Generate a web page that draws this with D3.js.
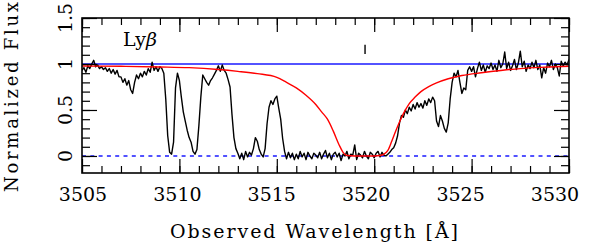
<!DOCTYPE html>
<html>
<head>
<meta charset="utf-8">
<script src="https://cdn.jsdelivr.net/npm/d3@7"></script>
<style>
  body { margin: 0; background: #fff; }
  text { font-family: "DejaVu Serif", serif; fill: #000; }
</style>
</head>
<body>
<svg id="chart" width="596" height="245"></svg>
<script>
// axis ticks
const xTicksMajor = [3505, 3510, 3515, 3520, 3525, 3530];
const xTicksMinor = d3.range(3505, 3531, 1);
const yTicksMajor = [0, 0.5, 1, 1.5];
const yTickLabels = ["0", "0.5", "1", "1.5"];
const yTicksMinor = [-0.1, 0, 0.1, 0.2, 0.3, 0.4, 0.5, 0.6, 0.7, 0.8, 0.9, 1, 1.1, 1.2, 1.3, 1.4, 1.5];

// observed spectrum, sampled every 0.1 A from 3505.0
const waveStart = 3505.0;
const waveStep = 0.1;
const flux = [
  0.93, 0.96, 0.91, 0.98, 0.95, 1.00, 1.04, 0.97, 0.99, 0.95,   // 3505
  0.97, 0.94, 0.96, 0.92, 0.95, 0.90, 0.94, 0.89, 0.93, 0.86,   // 3506
  0.86, 0.80, 0.84, 0.77, 0.82, 0.72, 0.68, 0.80, 0.88, 0.84,   // 3507
  0.90, 0.86, 0.92, 0.88, 0.95, 0.91, 1.02, 0.93, 0.97, 0.92,   // 3508
  0.97, 0.95, 0.90, 0.62, 0.22, 0.04, 0.02, 0.15, 0.74, 0.90,   // 3509
  0.82, 0.64, 0.48, 0.38, 0.28, 0.20, 0.15, 0.05, 0.02, 0.07,   // 3510
  0.33, 0.64, 0.88, 0.84, 0.80, 0.77, 0.82, 0.85, 0.89, 0.93,   // 3511
  0.98, 0.92, 0.99, 0.93, 0.90, 0.83, 0.75, 0.45, 0.20, 0.08,   // 3512
  0.03, -0.03, 0.03, -0.04, 0.05, -0.01, 0.04, 0.01, 0.08, 0.20, // 3513
  0.16, 0.07, 0.02, -0.01, 0.08, 0.35, 0.53, 0.60, 0.56, 0.62,  // 3514
  0.65, 0.52, 0.40, 0.19, 0.05, -0.03, 0.04, -0.02, 0.03, -0.04, // 3515
  0.02, -0.03, 0.05, -0.01, 0.03, -0.04, 0.04, 0.00, -0.03, 0.03, // 3516
  0.01, -0.02, 0.04, -0.03, 0.02, 0.06, -0.02, 0.03, -0.04, 0.02, // 3517
  0.04, -0.01, 0.03, -0.05, 0.02, 0.00, 0.05, -0.03, 0.02, 0.01, // 3518
  0.12, -0.04, 0.03, 0.01, -0.02, 0.05, 0.00, -0.03, 0.04, 0.02, // 3519
  -0.02, 0.03, 0.05, -0.01, 0.04, 0.01, 0.00, 0.02, 0.04, 0.07, // 3520
  0.09, 0.14, 0.22, 0.36, 0.44, 0.42, 0.50, 0.46, 0.53, 0.49,   // 3521
  0.56, 0.51, 0.58, 0.53, 0.57, 0.52, 0.60, 0.55, 0.62, 0.58,   // 3522
  0.64, 0.60, 0.38, 0.32, 0.44, 0.38, 0.30, 0.26, 0.36, 0.62,   // 3523
  0.80, 0.90, 0.86, 0.93, 0.80, 0.68, 0.74, 0.72, 0.93, 0.97,   // 3524
  0.92, 0.97, 0.86, 0.95, 1.02, 0.93, 0.99, 0.91, 0.98, 0.95,   // 3525
  1.01, 0.94, 0.99, 0.92, 1.04, 0.96, 1.00, 1.13, 0.95, 1.02,   // 3526
  0.93, 0.98, 1.05, 0.94, 1.01, 1.14, 0.97, 1.03, 0.92, 0.99,   // 3527
  0.95, 1.02, 0.96, 1.04, 0.94, 0.99, 0.85, 0.96, 0.90, 1.01,   // 3528
  0.97, 1.04, 0.94, 1.00, 0.96, 0.87, 1.03, 0.98, 1.02, 0.99,   // 3529
  1.05                                                          // 3530
];

// fitted absorption model (red)
const modelWave = [3505, 3507, 3509, 3510.5, 3512, 3513, 3514, 3515, 3515.5, 3516, 3516.5,
  3517, 3517.3, 3517.6, 3517.9, 3518.2, 3518.4, 3518.6, 3519, 3520, 3520.3, 3520.5, 3520.7,
  3520.9, 3521.1, 3521.3, 3521.5, 3521.8, 3522.1, 3522.4, 3522.8, 3523.2, 3523.8, 3524.5,
  3525.5, 3526.5, 3527.5, 3528.5, 3529.3, 3530];
const modelFlux = [0.978, 0.975, 0.968, 0.96, 0.94, 0.92, 0.895, 0.855, 0.80, 0.74, 0.66,
  0.56, 0.48, 0.40, 0.27, 0.12, 0.04, 0.005, 0, 0, 0.005, 0.02, 0.06,
  0.16, 0.27, 0.37, 0.46, 0.57, 0.64, 0.70, 0.755, 0.795, 0.84, 0.875,
  0.905, 0.93, 0.95, 0.963, 0.97, 0.976];

const continuumLevel = 1;
const zeroLevel = 0;
const markerWave = 3519.53;
const markerRange = [1.11, 1.21];

const svg = d3.select("#chart");
const margin = {left: 82, right: 27, top: 18, bottom: 72};
const W = 596, H = 245;

const x = d3.scaleLinear().domain([3505, 3530]).range([margin.left, W - margin.right]);
const y = d3.scaleLinear().domain([-0.185, 1.5]).range([H - margin.bottom, margin.top]);
// tick labels in the original sit on a slightly compressed grid
const xLab = d3.scaleLinear().domain([3505, 3530]).range([83, 555]);

svg.append("defs").append("clipPath").attr("id", "clip")
  .append("rect")
  .attr("x", x.range()[0]).attr("y", y.range()[1])
  .attr("width", x.range()[1] - x.range()[0])
  .attr("height", y.range()[0] - y.range()[1]);

const plot = svg.append("g").attr("clip-path", "url(#clip)");

// reference levels
plot.append("line")
  .attr("x1", x(3505)).attr("x2", x(3530))
  .attr("y1", y(continuumLevel)).attr("y2", y(continuumLevel))
  .attr("stroke", "#1a1aff").attr("stroke-width", 1.4);
plot.append("line")
  .attr("x1", x(3505)).attr("x2", x(3530))
  .attr("y1", y(zeroLevel)).attr("y2", y(zeroLevel))
  .attr("stroke", "#1a1aff").attr("stroke-width", 1.4)
  .attr("stroke-dasharray", "4,4.3");

// spectrum
const specLine = d3.line()
  .x((d, i) => x(waveStart + i * waveStep))
  .y(d => y(d));
plot.append("path")
  .datum(flux)
  .attr("d", specLine)
  .attr("fill", "none")
  .attr("stroke", "#000")
  .attr("stroke-width", 1.4)
  .attr("stroke-linejoin", "round");

// model
const modelLine = d3.line()
  .x(d => x(d[0]))
  .y(d => y(d[1]))
  .curve(d3.curveMonotoneX);
plot.append("path")
  .datum(d3.zip(modelWave, modelFlux))
  .attr("d", modelLine)
  .attr("fill", "none")
  .attr("stroke", "#ff0000")
  .attr("stroke-width", 1.4);

// line position marker
plot.append("line")
  .attr("x1", x(markerWave)).attr("x2", x(markerWave))
  .attr("y1", y(markerRange[0])).attr("y2", y(markerRange[1]))
  .attr("stroke", "#000").attr("stroke-width", 1.4);

// ticks on all four sides
function tickAxis(axis, values, size, transform) {
  const g = svg.append("g")
    .attr("transform", transform)
    .call(axis.tickValues(values).tickSize(size).tickSizeOuter(0).tickFormat(""));
  g.select(".domain").remove();
  g.selectAll("line").attr("stroke", "#000").attr("stroke-width", 1.2);
}
const bottomY = y.range()[0], topY = y.range()[1];
const leftX = x.range()[0], rightX = x.range()[1];
tickAxis(d3.axisBottom(x), xTicksMinor, -7, `translate(0,${bottomY})`);
tickAxis(d3.axisBottom(x), xTicksMajor, -14, `translate(0,${bottomY})`);
tickAxis(d3.axisTop(x), xTicksMinor, -7, `translate(0,${topY})`);
tickAxis(d3.axisTop(x), xTicksMajor, -14, `translate(0,${topY})`);
tickAxis(d3.axisLeft(y), yTicksMinor, -8, `translate(${leftX},0)`);
tickAxis(d3.axisLeft(y), yTicksMajor, -15, `translate(${leftX},0)`);
tickAxis(d3.axisRight(y), yTicksMinor, -8, `translate(${rightX},0)`);
tickAxis(d3.axisRight(y), yTicksMajor, -15, `translate(${rightX},0)`);

// frame
svg.append("rect")
  .attr("x", leftX).attr("y", topY)
  .attr("width", rightX - leftX).attr("height", bottomY - topY)
  .attr("fill", "none").attr("stroke", "#000").attr("stroke-width", 1.6);

// tick labels
svg.selectAll(".xlab").data(xTicksMajor).enter().append("text")
  .attr("class", "xlab")
  .attr("x", d => xLab(d)).attr("y", 200.5)
  .attr("text-anchor", "middle")
  .style("font-size", "19px")
  .text(d => d);

svg.selectAll(".ylab").data(yTicksMajor).enter().append("text")
  .attr("class", "ylab")
  .attr("transform", d => `translate(72,${y(d)}) rotate(-90)`)
  .attr("text-anchor", "middle")
  .style("font-size", "19px")
  .text((d, i) => yTickLabels[i]);

// axis titles
svg.append("text")
  .attr("x", 170).attr("y", 238)
  .attr("textLength", 288)
  .style("font-size", "19px")
  .text("Observed Wavelength [Å]");

svg.append("text")
  .attr("transform", "translate(17.5,192) rotate(-90)")
  .attr("textLength", 190)
  .style("font-size", "18px")
  .text("Normalized Flux");

// transition label
const lyb = svg.append("text")
  .attr("x", 123).attr("y", 46)
  .style("font-size", "19px");
lyb.append("tspan").text("Ly");
lyb.append("tspan").style("font-style", "italic").text("β");
</script>
</body>
</html>
